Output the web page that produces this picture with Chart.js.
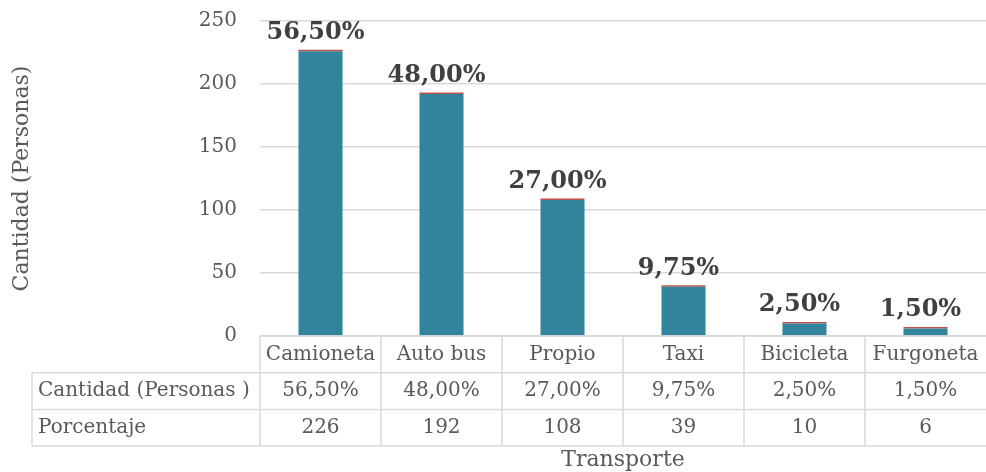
<!DOCTYPE html>
<html>
<head>
<meta charset="utf-8">
<script src="https://cdn.jsdelivr.net/npm/chart.js@4.4.0/dist/chart.umd.min.js"></script>
<style>
  html, body { margin: 0; padding: 0; background: #fff; }
  #wrap { width: 986px; height: 472px; }
</style>
</head>
<body>
<div id="wrap"><canvas id="chart" width="986" height="472"></canvas></div>
<script>
// values
const categories = ['Camioneta', 'Auto bus', 'Propio', 'Taxi', 'Bicicleta', 'Furgoneta'];
const cantidad = [226, 192, 108, 39, 10, 6];
const porcentaje = [0.565, 0.48, 0.27, 0.0975, 0.025, 0.015];
const yTicks = [0, 50, 100, 150, 200, 250];
const rowNames = ['Cantidad (Personas )', 'Porcentaje'];

const FONT = '"DejaVu Serif", serif';
const GREY = '#595959';
const LINE = '#d9d9d9';

function fmtPct(v) {
    return (v * 100).toFixed(2).replace('.', ',') + '%';
}

// data labels + data table under the plot, drawn off the x scale
const tablePlugin = {
    id: 'tablePlugin',
    afterDatasetsDraw(chart) {
        const ctx = chart.ctx;
        const meta = chart.getDatasetMeta(1);
        ctx.save();
        ctx.font = 'bold 24px ' + FONT;
        ctx.fillStyle = '#404040';
        ctx.textAlign = 'center';
        ctx.textBaseline = 'middle';
        meta.data.forEach((bar, i) => {
            ctx.fillText(fmtPct(porcentaje[i]), bar.x - 5, bar.y - 17);
        });
        ctx.restore();
    },
    afterDraw(chart) {
        const ctx = chart.ctx;
        const x = chart.scales.x;
        const area = chart.chartArea;
        const step = x.getPixelForValue(1) - x.getPixelForValue(0);
        const left = area.left;
        const right = area.right;
        const y0 = area.bottom;
        const rowH = 36.7;
        const y1 = y0 + rowH, y2 = y1 + rowH, y3 = y2 + rowH;
        const labelLeft = 32;

        ctx.save();
        ctx.strokeStyle = LINE;
        ctx.lineWidth = 1.5;
        ctx.beginPath();
        ctx.moveTo(left, y0); ctx.lineTo(right, y0);
        [y1, y2, y3].forEach(y => { ctx.moveTo(labelLeft, y); ctx.lineTo(right, y); });
        ctx.moveTo(labelLeft, y1); ctx.lineTo(labelLeft, y3);
        for (let i = 0; i < categories.length; i++) {
            const px = left + i * step;
            ctx.moveTo(px, y0); ctx.lineTo(px, y3);
        }
        ctx.stroke();

        ctx.font = '20px ' + FONT;
        ctx.fillStyle = GREY;
        ctx.textBaseline = 'middle';
        ctx.textAlign = 'center';
        categories.forEach((c, i) => {
            const cx = x.getPixelForValue(i);
            ctx.fillText(c, cx, (y0 + y1) / 2);
            ctx.fillText(fmtPct(porcentaje[i]), cx, (y1 + y2) / 2);
            ctx.fillText(String(cantidad[i]), cx, (y2 + y3) / 2);
        });
        ctx.textAlign = 'left';
        ctx.fillText(rowNames[0], 38, (y1 + y2) / 2);
        ctx.fillText(rowNames[1], 38, (y2 + y3) / 2);

        ctx.font = '22px ' + FONT;
        ctx.textAlign = 'center';
        ctx.fillText('Transporte', (left + right) / 2, 460);
        ctx.restore();
    }
};

new Chart(document.getElementById('chart'), {
    type: 'bar',
    data: {
        labels: categories,
        datasets: [{
            label: 'Cantidad (Personas )',
            data: cantidad,
            backgroundColor: '#31849B',
            categoryPercentage: 1,
            barPercentage: 0.364
        }, {
            label: 'Porcentaje',
            data: porcentaje,
            backgroundColor: '#C0504D',
            categoryPercentage: 1,
            barPercentage: 0.364,
            minBarLength: 1.5
        }]
    },
    options: {
        responsive: false,
        animation: false,
        layout: { padding: { top: 21, left: 0, right: 0, bottom: 0 } },
        plugins: {
            legend: { display: false },
            tooltip: { enabled: false }
        },
        scales: {
            x: {
                stacked: true,
                grid: { display: false },
                border: { display: false },
                ticks: { display: false },
                afterFit: s => { s.height = 136; s.paddingLeft = 0; s.paddingRight = 0; }
            },
            y: {
                stacked: true,
                min: 0,
                max: 250,
                afterBuildTicks: s => { s.ticks = yTicks.map(v => ({ value: v })); },
                afterFit: s => { s.width = 260; s.paddingTop = 0; s.paddingBottom = 0; },
                grid: { color: LINE, lineWidth: 1.5, drawTicks: false },
                border: { display: false },
                ticks: {
                    padding: 23,
                    color: GREY,
                    font: { family: FONT, size: 20 }
                },
                title: {
                    display: true,
                    text: 'Cantidad (Personas)',
                    color: GREY,
                    font: { family: FONT, size: 22 },
                    padding: { top: 9, bottom: 0 }
                }
            }
        }
    },
    plugins: [tablePlugin]
});
</script>
</body>
</html>
